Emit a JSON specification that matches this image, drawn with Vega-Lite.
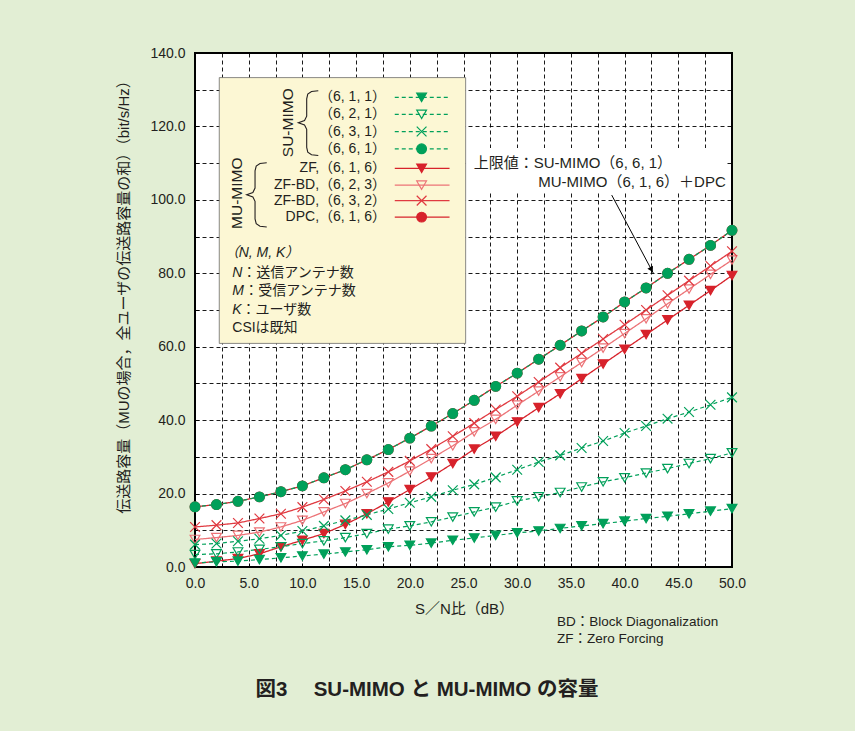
{
  "$schema": "https://vega.github.io/schema/vega-lite/v6.json",
  "width": 537,
  "height": 514,
  "autosize": {"type": "none"},
  "padding": {"left": 195, "top": 53, "right": 123, "bottom": 164},
  "background": "#e2eed4",
  "view": {"fill": "white", "stroke": "black", "strokeWidth": 2},
  "config": {
    "font": "Liberation Sans, Noto Sans CJK JP",
    "text": {"color": "#231f20"}
  },
  "datasets": {
    "series": [
      {"s":"zf616","x":0,"y":0.9},{"s":"zf616","x":2,"y":1.6},{"s":"zf616","x":4,"y":2.3},{"s":"zf616","x":6,"y":3.6},{"s":"zf616","x":8,"y":5.5},{"s":"zf616","x":10,"y":7.3},{"s":"zf616","x":12,"y":9.1},{"s":"zf616","x":14,"y":11.6},{"s":"zf616","x":16,"y":14.5},{"s":"zf616","x":18,"y":17.7},{"s":"zf616","x":20,"y":21.1},{"s":"zf616","x":22,"y":24.5},{"s":"zf616","x":24,"y":28.2},{"s":"zf616","x":26,"y":32.1},{"s":"zf616","x":28,"y":35.6},{"s":"zf616","x":30,"y":39.5},{"s":"zf616","x":32,"y":43.4},{"s":"zf616","x":34,"y":47.2},{"s":"zf616","x":36,"y":51.3},{"s":"zf616","x":38,"y":55.3},{"s":"zf616","x":40,"y":59.3},{"s":"zf616","x":42,"y":63.3},{"s":"zf616","x":44,"y":67.3},{"s":"zf616","x":46,"y":71.3},{"s":"zf616","x":48,"y":75.3},{"s":"zf616","x":50,"y":79.4},
      {"s":"bd623","x":0,"y":7.5},{"s":"bd623","x":2,"y":8.0},{"s":"bd623","x":4,"y":8.6},{"s":"bd623","x":6,"y":9.5},{"s":"bd623","x":8,"y":10.9},{"s":"bd623","x":10,"y":12.7},{"s":"bd623","x":12,"y":15.0},{"s":"bd623","x":14,"y":17.3},{"s":"bd623","x":16,"y":20.0},{"s":"bd623","x":18,"y":22.9},{"s":"bd623","x":20,"y":26.1},{"s":"bd623","x":22,"y":29.5},{"s":"bd623","x":24,"y":33.0},{"s":"bd623","x":26,"y":36.8},{"s":"bd623","x":28,"y":40.2},{"s":"bd623","x":30,"y":44.1},{"s":"bd623","x":32,"y":47.9},{"s":"bd623","x":34,"y":51.8},{"s":"bd623","x":36,"y":55.7},{"s":"bd623","x":38,"y":59.6},{"s":"bd623","x":40,"y":63.6},{"s":"bd623","x":42,"y":67.6},{"s":"bd623","x":44,"y":71.7},{"s":"bd623","x":46,"y":75.7},{"s":"bd623","x":48,"y":79.7},{"s":"bd623","x":50,"y":83.6},
      {"s":"bd632","x":0,"y":10.9},{"s":"bd632","x":2,"y":11.4},{"s":"bd632","x":4,"y":12.0},{"s":"bd632","x":6,"y":13.2},{"s":"bd632","x":8,"y":14.5},{"s":"bd632","x":10,"y":16.3},{"s":"bd632","x":12,"y":18.4},{"s":"bd632","x":14,"y":20.7},{"s":"bd632","x":16,"y":23.2},{"s":"bd632","x":18,"y":25.9},{"s":"bd632","x":20,"y":28.9},{"s":"bd632","x":22,"y":32.1},{"s":"bd632","x":24,"y":35.6},{"s":"bd632","x":26,"y":39.2},{"s":"bd632","x":28,"y":42.9},{"s":"bd632","x":30,"y":46.5},{"s":"bd632","x":32,"y":50.4},{"s":"bd632","x":34,"y":54.3},{"s":"bd632","x":36,"y":58.2},{"s":"bd632","x":38,"y":62.1},{"s":"bd632","x":40,"y":66.0},{"s":"bd632","x":42,"y":70.0},{"s":"bd632","x":44,"y":74.0},{"s":"bd632","x":46,"y":78.0},{"s":"bd632","x":48,"y":82.0},{"s":"bd632","x":50,"y":86.0},
      {"s":"dpc616","x":0,"y":16.4},{"s":"dpc616","x":2,"y":17.0},{"s":"dpc616","x":4,"y":17.9},{"s":"dpc616","x":6,"y":19.1},{"s":"dpc616","x":8,"y":20.5},{"s":"dpc616","x":10,"y":22.1},{"s":"dpc616","x":12,"y":24.3},{"s":"dpc616","x":14,"y":26.5},{"s":"dpc616","x":16,"y":29.2},{"s":"dpc616","x":18,"y":32.0},{"s":"dpc616","x":20,"y":35.1},{"s":"dpc616","x":22,"y":38.4},{"s":"dpc616","x":24,"y":41.8},{"s":"dpc616","x":26,"y":45.4},{"s":"dpc616","x":28,"y":49.2},{"s":"dpc616","x":30,"y":52.8},{"s":"dpc616","x":32,"y":56.6},{"s":"dpc616","x":34,"y":60.4},{"s":"dpc616","x":36,"y":64.3},{"s":"dpc616","x":38,"y":68.1},{"s":"dpc616","x":40,"y":72.2},{"s":"dpc616","x":42,"y":76.0},{"s":"dpc616","x":44,"y":80.0},{"s":"dpc616","x":46,"y":83.8},{"s":"dpc616","x":48,"y":87.6},{"s":"dpc616","x":50,"y":91.7},
      {"s":"su611","x":0,"y":1.1},{"s":"su611","x":2,"y":1.4},{"s":"su611","x":4,"y":1.6},{"s":"su611","x":6,"y":2.0},{"s":"su611","x":8,"y":2.5},{"s":"su611","x":10,"y":3.0},{"s":"su611","x":12,"y":3.5},{"s":"su611","x":14,"y":4.1},{"s":"su611","x":16,"y":4.7},{"s":"su611","x":18,"y":5.5},{"s":"su611","x":20,"y":5.9},{"s":"su611","x":22,"y":6.5},{"s":"su611","x":24,"y":7.3},{"s":"su611","x":26,"y":7.9},{"s":"su611","x":28,"y":8.6},{"s":"su611","x":30,"y":9.3},{"s":"su611","x":32,"y":9.8},{"s":"su611","x":34,"y":10.5},{"s":"su611","x":36,"y":11.2},{"s":"su611","x":38,"y":11.8},{"s":"su611","x":40,"y":12.5},{"s":"su611","x":42,"y":13.2},{"s":"su611","x":44,"y":13.8},{"s":"su611","x":46,"y":14.5},{"s":"su611","x":48,"y":15.2},{"s":"su611","x":50,"y":15.9},
      {"s":"su621","x":0,"y":3.4},{"s":"su621","x":2,"y":3.6},{"s":"su621","x":4,"y":4.1},{"s":"su621","x":6,"y":4.8},{"s":"su621","x":8,"y":5.5},{"s":"su621","x":10,"y":6.4},{"s":"su621","x":12,"y":7.1},{"s":"su621","x":14,"y":8.0},{"s":"su621","x":16,"y":9.1},{"s":"su621","x":18,"y":10.3},{"s":"su621","x":20,"y":11.2},{"s":"su621","x":22,"y":12.3},{"s":"su621","x":24,"y":13.6},{"s":"su621","x":26,"y":15.0},{"s":"su621","x":28,"y":16.3},{"s":"su621","x":30,"y":18.0},{"s":"su621","x":32,"y":19.1},{"s":"su621","x":34,"y":20.3},{"s":"su621","x":36,"y":21.8},{"s":"su621","x":38,"y":23.2},{"s":"su621","x":40,"y":24.3},{"s":"su621","x":42,"y":25.6},{"s":"su621","x":44,"y":26.8},{"s":"su621","x":46,"y":28.2},{"s":"su621","x":48,"y":29.5},{"s":"su621","x":50,"y":31.1},
      {"s":"su631","x":0,"y":6.1},{"s":"su631","x":2,"y":6.4},{"s":"su631","x":4,"y":7.0},{"s":"su631","x":6,"y":7.7},{"s":"su631","x":8,"y":8.6},{"s":"su631","x":10,"y":9.8},{"s":"su631","x":12,"y":11.2},{"s":"su631","x":14,"y":12.7},{"s":"su631","x":16,"y":14.2},{"s":"su631","x":18,"y":15.8},{"s":"su631","x":20,"y":17.5},{"s":"su631","x":22,"y":19.1},{"s":"su631","x":24,"y":20.9},{"s":"su631","x":26,"y":22.5},{"s":"su631","x":28,"y":24.4},{"s":"su631","x":30,"y":26.5},{"s":"su631","x":32,"y":28.6},{"s":"su631","x":34,"y":30.4},{"s":"su631","x":36,"y":32.4},{"s":"su631","x":38,"y":34.3},{"s":"su631","x":40,"y":36.5},{"s":"su631","x":42,"y":38.4},{"s":"su631","x":44,"y":40.4},{"s":"su631","x":46,"y":42.2},{"s":"su631","x":48,"y":44.2},{"s":"su631","x":50,"y":46.2},
      {"s":"su661","x":0,"y":16.4},{"s":"su661","x":2,"y":17.0},{"s":"su661","x":4,"y":17.9},{"s":"su661","x":6,"y":19.1},{"s":"su661","x":8,"y":20.5},{"s":"su661","x":10,"y":22.1},{"s":"su661","x":12,"y":24.3},{"s":"su661","x":14,"y":26.5},{"s":"su661","x":16,"y":29.2},{"s":"su661","x":18,"y":32.0},{"s":"su661","x":20,"y":35.1},{"s":"su661","x":22,"y":38.4},{"s":"su661","x":24,"y":41.8},{"s":"su661","x":26,"y":45.4},{"s":"su661","x":28,"y":49.2},{"s":"su661","x":30,"y":52.8},{"s":"su661","x":32,"y":56.6},{"s":"su661","x":34,"y":60.4},{"s":"su661","x":36,"y":64.3},{"s":"su661","x":38,"y":68.1},{"s":"su661","x":40,"y":72.2},{"s":"su661","x":42,"y":76.0},{"s":"su661","x":44,"y":80.0},{"s":"su661","x":46,"y":83.8},{"s":"su661","x":48,"y":87.6},{"s":"su661","x":50,"y":91.7}
    ],
    "legendRows": [
      {"s":"su611","label":"（6, 1, 1）","y":127.9,"tx":17.78,"x1":18.6,"x2":23.7,"xm":21.1},
      {"s":"su621","label":"（6, 2, 1）","y":123.3,"tx":17.78,"x1":18.6,"x2":23.7,"xm":21.1},
      {"s":"su631","label":"（6, 3, 1）","y":118.6,"tx":17.78,"x1":18.6,"x2":23.7,"xm":21.1},
      {"s":"su661","label":"（6, 6, 1）","y":113.9,"tx":17.78,"x1":18.6,"x2":23.7,"xm":21.1},
      {"s":"zf616","label":"ZF,（6, 1, 6）","y":108.6,"tx":17.78,"x1":18.6,"x2":23.7,"xm":21.1},
      {"s":"bd623","label":"ZF-BD,（6, 2, 3）","y":104.0,"tx":17.78,"x1":18.6,"x2":23.7,"xm":21.1},
      {"s":"bd632","label":"ZF-BD,（6, 3, 2）","y":99.8,"tx":17.78,"x1":18.6,"x2":23.7,"xm":21.1},
      {"s":"dpc616","label":"DPC,（6, 1, 6）","y":95.3,"tx":17.78,"x1":18.6,"x2":23.7,"xm":21.1}
    ],
    "legendBox": [{"x":2.26,"x2":25.2,"y":60.9,"y2":133.3}],
    "noteBox": [{"x":25.4,"x2":49.4,"y":102.1,"y2":114.1}],
    "braces": [
      {"b":"su","o":1,"x":11.48,"y":129.7},{"b":"su","o":2,"x":10.85,"y":129.5},{"b":"su","o":3,"x":10.5,"y":128.8},{"b":"su","o":4,"x":10.4,"y":127.5},{"b":"su","o":5,"x":10.4,"y":122.8},{"b":"su","o":6,"x":10.2,"y":121.6},{"b":"su","o":7,"x":9.62,"y":121.0},{"b":"su","o":8,"x":10.2,"y":120.4},{"b":"su","o":9,"x":10.4,"y":119.2},{"b":"su","o":10,"x":10.4,"y":114.3},{"b":"su","o":11,"x":10.5,"y":113.0},{"b":"su","o":12,"x":10.85,"y":112.3},{"b":"su","o":13,"x":11.48,"y":112.1},
      {"b":"mu","o":1,"x":6.68,"y":110.1},{"b":"mu","o":2,"x":6.05,"y":109.9},{"b":"mu","o":3,"x":5.7,"y":109.2},{"b":"mu","o":4,"x":5.59,"y":107.9},{"b":"mu","o":5,"x":5.59,"y":103.2},{"b":"mu","o":6,"x":5.39,"y":102.0},{"b":"mu","o":7,"x":4.81,"y":101.4},{"b":"mu","o":8,"x":5.39,"y":100.8},{"b":"mu","o":9,"x":5.59,"y":99.6},{"b":"mu","o":10,"x":5.59,"y":94.8},{"b":"mu","o":11,"x":5.7,"y":93.5},{"b":"mu","o":12,"x":6.05,"y":92.8},{"b":"mu","o":13,"x":6.68,"y":92.6}
    ],
    "groupLabels": [
      {"t":"SU-MIMO","x":8.69,"y":121.0},
      {"t":"MU-MIMO","x":3.88,"y":101.8}
    ],
    "notesItalic": [
      {"t":"（N, M, K）","x":2.76,"y":85.4},
      {"t":"N","x":3.47,"y":80.2},
      {"t":"M","x":3.47,"y":75.1},
      {"t":"K","x":3.47,"y":70.0}
    ],
    "notesPlain": [
      {"t":"：送信アンテナ数","x":4.41,"y":80.2},
      {"t":"：受信アンテナ数","x":4.59,"y":75.1},
      {"t":"：ユーザ数","x":4.34,"y":70.0},
      {"t":"CSIは既知","x":3.47,"y":65.0}
    ],
    "annot": [
      {"t":"上限値：SU-MIMO（6, 6, 1）","x":25.95,"y":110.1},
      {"t":"MU-MIMO（6, 1, 6）＋DPC","x":31.96,"y":104.9}
    ],
    "arrow": [{"x":38.8,"y":101.3,"x2":42.68,"y2":80.0}],
    "arrowHead": [{"x":42.5,"y":81.0}],
    "footNotes": [
      {"t":"BD：Block Diagonalization","x":33.7,"y":-15.1},
      {"t":"ZF：Zero Forcing","x":33.7,"y":-19.7}
    ],
    "caption": [{"t":"図3　 SU-MIMO と MU-MIMO の容量","x":21.6,"y":-33.6}]
  },
  "encoding": {
    "x": {
      "field": "x", "type": "quantitative",
      "scale": {"domain": [0, 50], "nice": false, "zero": false},
      "axis": {
        "title": "S／N比（dB）",
        "values": [0,2.5,5,7.5,10,12.5,15,17.5,20,22.5,25,27.5,30,32.5,35,37.5,40,42.5,45,47.5,50],
        "labelExpr": "datum.value % 5 === 0 ? format(datum.value, '.1f') : ''",
        "grid": true, "gridDash": [4, 3], "gridColor": "#000000", "gridOpacity": 1, "gridWidth": 0.9,
        "domain": false,
        "tickSize": -4, "tickColor": "#000000", "tickWidth": 1,
        "labelPadding": 13,
        "labelFont": "Liberation Sans", "labelFontSize": 14, "labelColor": "#231f20",
        "labelFlush": false, "labelOverlap": false,
        "titleFont": "Liberation Sans, Noto Sans CJK JP", "titleFontSize": 15, "titleFontWeight": "normal", "titleColor": "#231f20",
        "titleX": 269, "titleY": 41, "titleBaseline": "middle"
      }
    },
    "y": {
      "field": "y", "type": "quantitative",
      "scale": {"domain": [0, 140], "nice": false, "zero": false},
      "axis": {
        "title": "伝送路容量（MUの場合，全ユーザの伝送路容量の和）（bit/s/Hz）",
        "values": [0,10,20,30,40,50,60,70,80,90,100,110,120,130,140],
        "labelExpr": "datum.value % 20 === 0 ? format(datum.value, '.1f') : ''",
        "grid": true, "gridDash": [4, 3], "gridColor": "#000000", "gridOpacity": 1, "gridWidth": 0.9,
        "domain": false,
        "tickSize": -4, "tickColor": "#000000", "tickWidth": 1,
        "labelPadding": 14,
        "labelFont": "Liberation Sans", "labelFontSize": 14, "labelColor": "#231f20",
        "labelFlush": false, "labelOverlap": false,
        "titleFont": "Liberation Sans, Noto Sans CJK JP", "titleFontSize": 15, "titleFontWeight": "normal", "titleColor": "#231f20",
        "titleAngle": 270, "titleX": -72, "titleY": 240, "titleBaseline": "middle", "titleAlign": "center"
      }
    }
  },
  "layer": [
    {
      "data": {"name": "legendBox"},
      "mark": {"type": "rect", "fill": "#fcf7d4", "stroke": "#6b6b6b", "strokeWidth": 0.8},
      "encoding": {"x2": {"field": "x2"}, "y2": {"field": "y2"}}
    },
    {
      "data": {"name": "noteBox"},
      "mark": {"type": "rect", "fill": "white"},
      "encoding": {"x2": {"field": "x2"}, "y2": {"field": "y2"}}
    },
    {
      "data": {"name": "series"},
      "transform": [{"filter": {"field": "s", "oneOf": ["zf616", "bd623", "bd632", "dpc616"]}}],
      "mark": {"type": "line", "strokeWidth": 1.3},
      "encoding": {
        "stroke": {"field": "s", "type": "nominal", "legend": null,
          "scale": {"domain": ["zf616","bd623","bd632","dpc616","su611","su621","su631","su661"],
                    "range": ["#d7222b","#ec7377","#e03a41","#d7222b","#00a05a","#00a05a","#00a05a","#00a05a"]}},
        "strokeDash": {"field": "s", "type": "nominal", "legend": null,
          "scale": {"domain": ["zf616","bd623","bd632","dpc616","su611","su621","su631","su661"],
                    "range": [[1,0],[1,0],[1,0],[1,0],[4,3],[4,3],[4,3],[4,3]]}}
      }
    },
    {
      "data": {"name": "series"},
      "transform": [{"filter": {"field": "s", "oneOf": ["su611", "su621", "su631", "su661"]}}],
      "mark": {"type": "line", "strokeWidth": 1.2},
      "encoding": {
        "stroke": {"field": "s", "type": "nominal", "legend": null},
        "strokeDash": {"field": "s", "type": "nominal", "legend": null}
      }
    },
    {
      "data": {"name": "series"},
      "mark": {"type": "point", "strokeWidth": 1.2, "opacity": 1},
      "encoding": {
        "stroke": {"field": "s", "type": "nominal", "legend": null},
        "fill": {"field": "s", "type": "nominal", "legend": null,
          "scale": {"domain": ["zf616","bd623","bd632","dpc616","su611","su621","su631","su661"],
                    "range": ["#d7222b","transparent","transparent","#d7222b","#00a05a","transparent","transparent","#00a05a"]}},
        "shape": {"field": "s", "type": "nominal", "legend": null,
          "scale": {"domain": ["zf616","bd623","bd632","dpc616","su611","su621","su631","su661"],
                    "range": ["triangle-down","triangle-down","M-1,-1L1,1M-1,1L1,-1","circle","triangle-down","triangle-down","M-1,-1L1,1M-1,1L1,-1","circle"]}},
        "size": {"field": "s", "type": "nominal", "legend": null,
          "scale": {"domain": ["zf616","bd623","bd632","dpc616","su611","su621","su631","su661"],
                    "range": [95, 95, 100, 140, 95, 95, 100, 140]}}
      }
    },
    {
      "data": {"name": "legendRows"},
      "mark": {"type": "rule", "strokeWidth": 1.3},
      "encoding": {
        "x": {"field": "x1", "type": "quantitative"},
        "x2": {"field": "x2"},
        "stroke": {"field": "s", "type": "nominal", "legend": null},
        "strokeDash": {"field": "s", "type": "nominal", "legend": null}
      }
    },
    {
      "data": {"name": "legendRows"},
      "mark": {"type": "point", "strokeWidth": 1.2, "opacity": 1},
      "encoding": {
        "x": {"field": "xm", "type": "quantitative"},
        "stroke": {"field": "s", "type": "nominal", "legend": null},
        "fill": {"field": "s", "type": "nominal", "legend": null},
        "shape": {"field": "s", "type": "nominal", "legend": null},
        "size": {"field": "s", "type": "nominal", "legend": null}
      }
    },
    {
      "data": {"name": "legendRows"},
      "mark": {"type": "text", "align": "right", "baseline": "middle", "fontSize": 14, "font": "Liberation Sans, Noto Sans CJK JP"},
      "encoding": {
        "x": {"field": "tx", "type": "quantitative"},
        "text": {"field": "label"}
      }
    },
    {
      "data": {"name": "braces"},
      "mark": {"type": "line", "color": "#231f20", "strokeWidth": 1.1},
      "encoding": {"detail": {"field": "b"}, "order": {"field": "o", "type": "quantitative"}}
    },
    {
      "data": {"name": "groupLabels"},
      "mark": {"type": "text", "angle": 270, "align": "center", "baseline": "middle", "fontSize": 15.5, "font": "Liberation Sans"},
      "encoding": {"text": {"field": "t"}}
    },
    {
      "data": {"name": "notesItalic"},
      "mark": {"type": "text", "align": "left", "baseline": "middle", "fontSize": 14, "fontStyle": "italic", "font": "Liberation Sans, Noto Sans CJK JP"},
      "encoding": {"text": {"field": "t"}}
    },
    {
      "data": {"name": "notesPlain"},
      "mark": {"type": "text", "align": "left", "baseline": "middle", "fontSize": 14, "font": "Liberation Sans, Noto Sans CJK JP"},
      "encoding": {"text": {"field": "t"}}
    },
    {
      "data": {"name": "annot"},
      "mark": {"type": "text", "align": "left", "baseline": "middle", "fontSize": 15, "font": "Liberation Sans, Noto Sans CJK JP"},
      "encoding": {"text": {"field": "t"}}
    },
    {
      "data": {"name": "arrow"},
      "mark": {"type": "rule", "color": "#000000", "strokeWidth": 1},
      "encoding": {"x2": {"field": "x2"}, "y2": {"field": "y2"}}
    },
    {
      "data": {"name": "arrowHead"},
      "mark": {"type": "point", "shape": "triangle-up", "angle": 152, "filled": true, "color": "#000000", "size": 40, "opacity": 1},
      "encoding": {}
    },
    {
      "data": {"name": "footNotes"},
      "mark": {"type": "text", "align": "left", "baseline": "middle", "fontSize": 13.5, "font": "Liberation Sans, Noto Sans CJK JP"},
      "encoding": {"text": {"field": "t"}}
    },
    {
      "data": {"name": "caption"},
      "mark": {"type": "text", "align": "center", "baseline": "middle", "fontSize": 20.5, "fontWeight": "bold", "font": "Liberation Sans, Noto Sans CJK JP"},
      "encoding": {"text": {"field": "t"}}
    }
  ]
}
